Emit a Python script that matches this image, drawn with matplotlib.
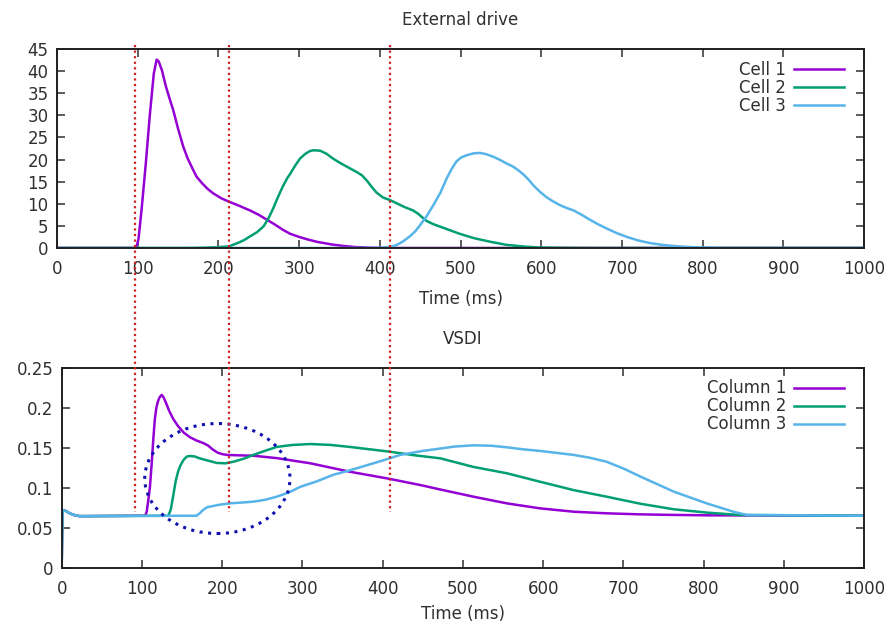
import numpy as np
import matplotlib
matplotlib.use("Agg")
import matplotlib.pyplot as plt
from matplotlib.patches import Ellipse
from matplotlib.lines import Line2D
import matplotlib.transforms as mtransforms

# ---- External drive (top panel) ----
cell1_t = [0, 98, 101, 105, 110, 115, 120, 123.5, 126, 130, 135, 140, 144, 150, 156.5, 162,
           167, 173, 180, 187, 194, 204, 214, 225, 239, 250, 260, 270, 280, 289, 300, 311,
           322, 340, 355, 370, 390, 410, 1000]
cell1_v = [0, 0, 2, 9, 19, 30, 39.5, 42.6, 42.2, 40.2, 36.5, 33.5, 31.2, 27, 22.9, 20.2,
           18.3, 16.1, 14.6, 13.3, 12.3, 11.2, 10.4, 9.6, 8.5, 7.5, 6.4, 5.3, 4.1, 3.2, 2.5,
           1.9, 1.4, 0.8, 0.45, 0.2, 0.05, 0, 0]

cell2_t = [0, 165, 180, 195, 213, 225, 232, 239, 248, 256, 262, 268, 274, 280, 285, 289,
           295, 301, 307, 313, 318, 326, 334, 342, 352, 363, 372, 378, 384, 390, 396, 404,
           413, 421, 430, 441, 447, 452, 458, 466, 475, 487, 499, 517, 537, 557, 580, 598,
           640, 660, 1000]
cell2_v = [0, 0, 0.05, 0.15, 0.35, 1.2, 1.8, 2.6, 3.6, 4.9, 6.7, 9.0, 11.6, 14.0, 15.7,
           16.8, 18.6, 20.2, 21.2, 21.9, 22.1, 22.0, 21.3, 20.2, 19.1, 18.0, 17.1, 16.4,
           15.2, 13.8, 12.5, 11.4, 10.8, 10.1, 9.3, 8.5, 7.8, 7.0, 6.1, 5.4, 4.8, 4.0, 3.2,
           2.2, 1.4, 0.7, 0.3, 0.1, 0.02, 0, 0]

cell3_t = [0, 380, 400, 412, 420, 428, 437, 444, 450, 458, 466, 475, 483, 489, 495, 501,
           508, 516, 524, 532, 541, 549, 557, 565, 572, 578, 584, 590, 599, 607, 615, 623,
           632, 640, 650, 661, 671, 681, 693, 706, 720, 735, 750, 764, 780, 797, 830, 1000]
cell3_v = [0, 0, 0.05, 0.25, 0.6, 1.4, 2.6, 3.8, 5.2, 7.2, 9.6, 12.5, 15.8, 17.9, 19.6,
           20.5, 21.0, 21.4, 21.5, 21.2, 20.6, 19.9, 19.1, 18.4, 17.5, 16.6, 15.5, 14.2,
           12.6, 11.4, 10.5, 9.7, 9.0, 8.5, 7.5, 6.3, 5.3, 4.4, 3.4, 2.5, 1.7, 1.1, 0.7,
           0.45, 0.25, 0.1, 0, 0]

# ---- VSDI (bottom panel) ----
col1_t = [0, 1, 5, 10, 15, 22, 30, 104, 106, 108, 110, 112, 114, 116, 118, 120, 122, 124.6,
          127, 130, 134, 139, 145, 152, 160, 168, 176, 182, 188, 194, 200, 206, 220, 239,
          268, 310, 359, 409, 450, 472, 513, 555, 596, 638, 679, 721, 762, 804, 1000]
col1_v = [0, 0.072, 0.071, 0.068, 0.066, 0.0645, 0.0645, 0.065, 0.07, 0.085, 0.101, 0.128,
          0.158, 0.185, 0.2, 0.208, 0.213, 0.216, 0.213, 0.206, 0.196, 0.186, 0.177, 0.169,
          0.163, 0.159, 0.156, 0.153, 0.148, 0.144, 0.142, 0.141, 0.1405, 0.140, 0.137,
          0.1305, 0.12, 0.111, 0.1027, 0.0977, 0.0888, 0.0804, 0.0742, 0.070, 0.068, 0.0667,
          0.066, 0.0655, 0.065]

col2_t = [0, 1, 5, 10, 15, 22, 30, 133, 136, 139, 142, 145, 148, 152, 156, 160, 166, 172,
          182, 193, 204, 214, 226, 239, 253, 268, 288, 310, 335, 359, 384, 409, 440, 472,
          513, 555, 596, 638, 679, 721, 763, 805, 845, 1000]
col2_v = [0, 0.072, 0.071, 0.068, 0.066, 0.0645, 0.0645, 0.065, 0.073, 0.09, 0.108, 0.12,
          0.128, 0.135, 0.139, 0.1396, 0.139, 0.1367, 0.134, 0.131, 0.1305, 0.1325, 0.136,
          0.141, 0.146, 0.151, 0.1535, 0.1546, 0.1535, 0.151, 0.148, 0.145, 0.1405, 0.1367,
          0.126, 0.118, 0.1075, 0.097, 0.0888, 0.080, 0.073, 0.0688, 0.0659, 0.065]

col3_t = [0, 1, 5, 10, 15, 22, 30, 168, 172, 176, 181, 188, 195, 210, 225, 239, 254, 268,
          283, 297, 318, 338, 360, 380, 400, 422, 450, 472, 490, 513, 535, 555, 575, 596,
          617, 638, 658, 679, 700, 721, 742, 763, 784, 805, 821, 837, 854, 1000]
col3_v = [0, 0.072, 0.071, 0.068, 0.066, 0.0645, 0.0645, 0.065, 0.068, 0.072, 0.0755,
          0.077, 0.0785, 0.0805, 0.0815, 0.0826, 0.085, 0.0888, 0.094, 0.101, 0.108, 0.116,
          0.122, 0.128, 0.134, 0.141, 0.146, 0.149, 0.1515, 0.153, 0.1525, 0.1505, 0.148,
          0.146, 0.1435, 0.141, 0.1375, 0.1325, 0.124, 0.114, 0.1045, 0.095, 0.0875, 0.080,
          0.075, 0.070, 0.0659, 0.065]

# event markers (ms, on the top axis scale)
event_times = [97, 213, 412]

colors = ['#9400d3', '#009e73', '#56b4e9']

plt.rcParams['font.family'] = 'DejaVu Sans'
plt.rcParams['font.size'] = 12
text_col = '#303030'

fig = plt.figure(figsize=(8.9, 6.24), dpi=100)
ax1 = fig.add_axes([0.064, 0.6026, 0.907, 0.3189])
ax2 = fig.add_axes([0.0693, 0.0902, 0.9017, 0.3205])


def style(ax, labelpad):
    for s in ax.spines.values():
        s.set_linewidth(1.4)
        s.set_color('#202020')
    ax.tick_params(direction='in', length=6, width=1.2, top=True, right=True,
                   labelsize=12, colors='#404040', labelcolor=text_col)
    ax.tick_params(axis='x', pad=9)
    ax.tick_params(axis='y', pad=6)
    ax.set_xlim(0, 1000)
    ax.set_xticks(np.arange(0, 1001, 100))
    ax.set_xlabel('Time (ms)', color=text_col, labelpad=labelpad)


def add_legend(ax):
    ax.legend(loc='upper right', frameon=False, markerfirst=False, handlelength=3.0,
              labelspacing=0.0, borderaxespad=0.3, handletextpad=0.5,
              bbox_to_anchor=(0.99, 1.0), labelcolor=text_col)


lw = 1.8
ax1.plot(cell1_t, cell1_v, color=colors[0], lw=lw, label='Cell 1')
ax1.plot(cell2_t, cell2_v, color=colors[1], lw=lw, label='Cell 2')
ax1.plot(cell3_t, cell3_v, color=colors[2], lw=lw, label='Cell 3')
style(ax1, 8)
ax1.set_ylim(0, 45)
ax1.set_yticks(np.arange(0, 46, 5))
ax1.set_title('External drive', fontsize=12, color=text_col, pad=17)
add_legend(ax1)

ax2.plot(col1_t, col1_v, color=colors[0], lw=lw, label='Column 1')
ax2.plot(col2_t, col2_v, color=colors[1], lw=lw, label='Column 2')
ax2.plot(col3_t, col3_v, color=colors[2], lw=lw, label='Column 3')
style(ax2, 5)
ax2.set_ylim(0, 0.25)
ax2.set_yticks([0, 0.05, 0.1, 0.15, 0.2, 0.25])
ax2.set_yticklabels(['0', '0.05', '0.1', '0.15', '0.2', '0.25'])
ax2.set_title('VSDI', fontsize=12, color=text_col, pad=17)
add_legend(ax2)

# dotted ellipse highlighting the early response
ax2.add_patch(Ellipse((194, 0.1115), 181, 0.1375, fill=False, edgecolor='#1010b0',
                      linestyle=(0, (1, 1.8)), linewidth=2.2, zorder=5))

# red dotted event lines spanning both panels
trans = mtransforms.blended_transform_factory(ax1.transData, fig.transFigure)
for t in event_times:
    fig.add_artist(Line2D([t, t], [1 - 45 / 624, 1 - 512 / 624], transform=trans,
                          color='#d02020', linestyle=(0, (1, 1.5)), linewidth=1.6,
                          zorder=10))

fig.savefig('out.png', dpi=100)
